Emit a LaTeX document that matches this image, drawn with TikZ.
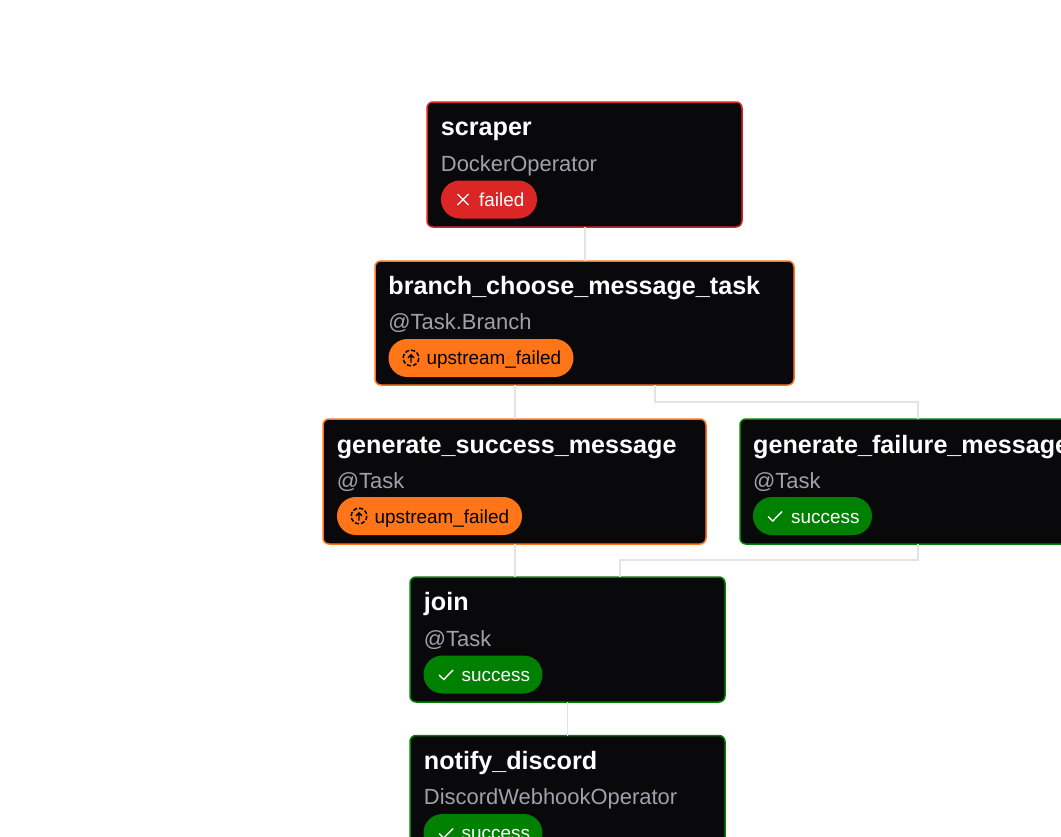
\documentclass[tikz,border=0pt]{standalone}
\usepackage{fontspec}
\setmainfont{Liberation Sans}
\usetikzlibrary{arrows.meta,positioning}

\definecolor{boxfill}{HTML}{09090B}
\definecolor{subgray}{HTML}{A1A1AA}
\definecolor{edgegray}{HTML}{E4E4E7}
\definecolor{failedred}{HTML}{DC2626}
\definecolor{upstreamorange}{HTML}{FF7518}
\definecolor{successgreen}{HTML}{008000}

\tikzset{
  taskbox/.style={draw=#1, fill=boxfill, line width=1.5pt, rounded corners=6pt, inner sep=0pt, outer sep=0pt},
  tasktitle/.style={anchor=base west, inner sep=0pt, text=white, font=\fontsize{25.15}{30}\selectfont\bfseries},
  tasksub/.style={anchor=base west, inner sep=0pt, text=subgray, font=\fontsize{21.95}{26}\selectfont},
  pill/.style={fill=#1, rounded corners=18.9pt, inner sep=0pt, outer sep=0pt, minimum height=38pt},
  pilltext/.style={anchor=base west, inner sep=0pt, font=\fontsize{18.9}{23}\selectfont},
  edge/.style={draw=edgegray, line width=1.8pt},
  crossicon/.pic={\draw[white, line width=1.3pt] (-5.5,-5.5) -- (5.5,5.5) (-5.5,5.5) -- (5.5,-5.5);},
  checkicon/.pic={\draw[white, line width=1.4pt] (-7,0.5) -- (-2.2,5) -- (7,-4.5);},
  upicon/.pic={
    \draw[black, line width=1.5pt, dash pattern=on 4.2pt off 1.9pt] (0,0) circle[radius=7.8];
    \draw[black, line width=1.4pt] (0,4.5) -- (0,-3.2) (-3,-0.2) -- (0,-3.2) -- (3,-0.2);
  },
}

\begin{document}
\begin{tikzpicture}[x=1pt, y=-1pt, >=Stealth]

  % page size of the reference
  \path[use as bounding box, clip] (0,0) rectangle (1061,836);

  % task boxes
  \node[taskbox=failedred, minimum width=315pt, minimum height=125pt] (scraper) at (584.5,164.5) {};
  \node[taskbox=upstreamorange, minimum width=419pt, minimum height=124pt] (branch) at (584.5,323) {};
  \node[taskbox=upstreamorange, minimum width=383pt, minimum height=125pt] (success) at (514.5,481.5) {};
  \node[taskbox=successgreen, minimum width=356pt, minimum height=125pt] (failure) at (918,481.5) {};
  \node[taskbox=successgreen, minimum width=315pt, minimum height=125pt] (join) at (567.5,639.5) {};
  \node[taskbox=successgreen, minimum width=315pt, minimum height=125pt] (notify) at (567.5,798) {};

  % edges between the boxes
  \coordinate (branchout) at (655,385);
  \coordinate (joinin) at (620,577);
  \draw[edge] ([xshift=0.5pt]scraper.south) -- ([xshift=0.5pt]branch.north);
  \draw[edge] ([xshift=0.5pt]success.north |- branch.south) -- ([xshift=0.5pt]success.north);
  \draw[edge] (branchout) -- (655,402) -| (failure.north);
  \draw[edge] ([xshift=0.5pt]success.south) -- ([xshift=0.5pt]success.south |- join.north);
  \draw[edge] (failure.south) -- (918,560) -| (joinin);
  \draw[edge] (join.south) -- (notify.north);

  % scraper
  \node[tasktitle] (scrapertitle) at (440.7,135.7) {scraper};
  \node[tasksub] (scrapersub) at (440.7,171.5) {DockerOperator};
  \node[pill=failedred, minimum width=96pt] (scraperpill) at (489,199.5) {};
  \pic at (463,199.5) {crossicon};
  \node[pilltext, text=white] (scraperstate) at (479,206) {failed};

  % branch_choose_message_task
  \node[tasktitle] (branchtitle) at (388.2,294.7) {branch\_choose\_message\_task};
  \node[tasksub] (branchsub) at (388.2,329.5) {@Task.Branch};
  \node[pill=upstreamorange, minimum width=185pt] (branchpill) at (481,358) {};
  \pic at (411,358) {upicon};
  \node[pilltext, text=black] (branchstate) at (426.5,364.5) {upstream\_failed};

  % generate_success_message
  \node[tasktitle] (successtitle) at (336.6,453.2) {generate\_success\_message};
  \node[tasksub] (successsub) at (336.6,488) {@Task};
  \node[pill=upstreamorange, minimum width=185pt] (successpill) at (429.5,516) {};
  \pic at (359,516) {upicon};
  \node[pilltext, text=black] (successstate) at (374.5,523) {upstream\_failed};

  % generate_failure_message
  \node[tasktitle] (failuretitle) at (753,453.2) {generate\_failure\_message};
  \node[tasksub] (failuresub) at (753,488) {@Task};
  \node[pill=successgreen, minimum width=119pt] (failurepill) at (812.5,516) {};
  \pic at (775,516) {checkicon};
  \node[pilltext, text=white] (failurestate) at (791,523) {success};

  % join
  \node[tasktitle] (jointitle) at (423.7,610.7) {join};
  \node[tasksub] (joinsub) at (423.7,646) {@Task};
  \node[pill=successgreen, minimum width=119pt] (joinpill) at (483,674.5) {};
  \pic at (446,674.5) {checkicon};
  \node[pilltext, text=white] (joinstate) at (461.5,681) {success};

  % notify_discord
  \node[tasktitle] (notifytitle) at (423.7,769.7) {notify\_discord};
  \node[tasksub] (notifysub) at (423.7,804) {DiscordWebhookOperator};
  \node[pill=successgreen, minimum width=119pt] (notifypill) at (483,833) {};
  \pic at (446,833) {checkicon};
  \node[pilltext, text=white] (notifystate) at (461.5,839) {success};

\end{tikzpicture}
\end{document}
